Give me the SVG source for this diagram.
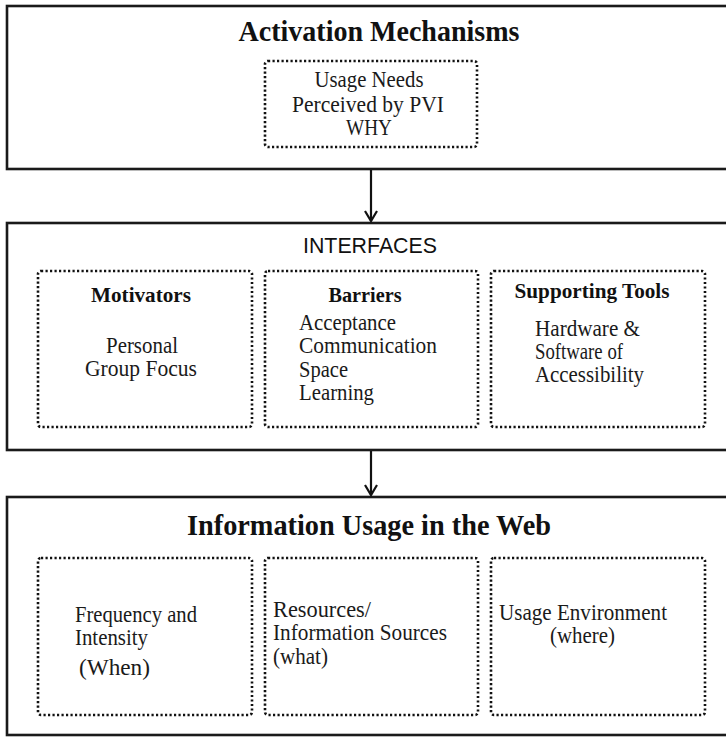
<svg xmlns="http://www.w3.org/2000/svg" width="726" height="737" viewBox="0 0 726 737">
  <style>
    .frame { fill: #ffffff; stroke: #1a1a1a; stroke-width: 2.6; }
    .dot { fill: none; stroke: #111; stroke-width: 2.6; stroke-dasharray: 2.2 2.3; }
    .title { font-family: "Liberation Serif", "Times New Roman", serif; font-weight: bold; font-size: 29px; fill: #111; text-anchor: middle; }
    .sans { font-family: "Liberation Sans", Arial, sans-serif; font-size: 22px; fill: #111; text-anchor: middle; }
    .head { font-family: "Liberation Serif", "Times New Roman", serif; font-weight: bold; font-size: 22px; fill: #111; text-anchor: middle; }
    .body { font-family: "Liberation Serif", "Times New Roman", serif; font-size: 23px; fill: #1a1a1a; }
    .mid { text-anchor: middle; }
    .conn { stroke: #111; stroke-width: 2.2; fill: none; }
    .tip { stroke: #111; stroke-width: 2.2; fill: none; stroke-linejoin: miter; }
  </style>
  <rect width="726" height="737" fill="#ffffff"/>

  <!-- Activation Mechanisms -->
  <g id="activation">
    <rect class="frame" x="7" y="6" width="740" height="163"/>
    <text class="title" x="379" y="41" textLength="281" lengthAdjust="spacingAndGlyphs">Activation Mechanisms</text>
    <g id="usage-needs">
      <rect class="dot" x="265" y="61" width="212" height="86" rx="3"/>
      <text class="body mid" x="369" y="87" textLength="109" lengthAdjust="spacingAndGlyphs">Usage Needs</text>
      <text class="body mid" x="368" y="112" textLength="152" lengthAdjust="spacingAndGlyphs">Perceived by PVI</text>
      <text class="body mid" x="369" y="135" textLength="46" lengthAdjust="spacingAndGlyphs">WHY</text>
    </g>
  </g>

  <!-- Interfaces -->
  <g id="interfaces">
    <rect class="frame" x="7" y="223" width="740" height="227"/>
    <text class="sans" x="370" y="253" textLength="134" lengthAdjust="spacingAndGlyphs">INTERFACES</text>
    <g id="motivators">
      <rect class="dot" x="38" y="271" width="214" height="156" rx="3"/>
      <text class="head" x="141" y="302" textLength="100" lengthAdjust="spacingAndGlyphs">Motivators</text>
      <text class="body mid" x="142" y="353" textLength="72" lengthAdjust="spacingAndGlyphs">Personal</text>
      <text class="body mid" x="141" y="376" textLength="112" lengthAdjust="spacingAndGlyphs">Group Focus</text>
    </g>
    <g id="barriers">
      <rect class="dot" x="265" y="271" width="213" height="156" rx="3"/>
      <text class="head" x="365" y="302" textLength="73" lengthAdjust="spacingAndGlyphs">Barriers</text>
      <text class="body" x="299" y="330" textLength="97" lengthAdjust="spacingAndGlyphs">Acceptance</text>
      <text class="body" x="299" y="353" textLength="138" lengthAdjust="spacingAndGlyphs">Communication</text>
      <text class="body" x="299" y="377" textLength="49" lengthAdjust="spacingAndGlyphs">Space</text>
      <text class="body" x="299" y="400" textLength="75" lengthAdjust="spacingAndGlyphs">Learning</text>
    </g>
    <g id="supporting-tools">
      <rect class="dot" x="491" y="271" width="214" height="156" rx="3"/>
      <text class="head" x="592" y="298" textLength="155" lengthAdjust="spacingAndGlyphs">Supporting Tools</text>
      <text class="body" x="535" y="336" textLength="105" lengthAdjust="spacingAndGlyphs">Hardware &amp;</text>
      <text class="body" x="535" y="359" textLength="88" lengthAdjust="spacingAndGlyphs">Software of</text>
      <text class="body" x="535" y="382" textLength="109" lengthAdjust="spacingAndGlyphs">Accessibility</text>
    </g>
  </g>

  <!-- Information Usage in the Web -->
  <g id="information-usage">
    <rect class="frame" x="7" y="497" width="740" height="238"/>
    <text class="title" x="369" y="535" textLength="364" lengthAdjust="spacingAndGlyphs">Information Usage in the Web</text>
    <g id="frequency">
      <rect class="dot" x="38" y="558" width="214" height="157" rx="3"/>
      <text class="body" x="75" y="622" textLength="122" lengthAdjust="spacingAndGlyphs">Frequency and</text>
      <text class="body" x="75" y="645" textLength="73" lengthAdjust="spacingAndGlyphs">Intensity</text>
      <text class="body" x="79" y="675" textLength="71" lengthAdjust="spacingAndGlyphs">(When)</text>
    </g>
    <g id="resources">
      <rect class="dot" x="265" y="558" width="213" height="157" rx="3"/>
      <text class="body" x="273" y="617" textLength="98" lengthAdjust="spacingAndGlyphs">Resources/</text>
      <text class="body" x="273" y="640" textLength="174" lengthAdjust="spacingAndGlyphs">Information Sources</text>
      <text class="body" x="273" y="664" textLength="55" lengthAdjust="spacingAndGlyphs">(what)</text>
    </g>
    <g id="environment">
      <rect class="dot" x="491" y="558" width="214" height="157" rx="3"/>
      <text class="body" x="499" y="620" textLength="168" lengthAdjust="spacingAndGlyphs">Usage Environment</text>
      <text class="body" x="550" y="643" textLength="65" lengthAdjust="spacingAndGlyphs">(where)</text>
    </g>
  </g>

  <!-- Connectors -->
  <g id="connectors">
    <line class="conn" x1="371" y1="170" x2="371" y2="221"/>
    <path class="tip" d="M365,211 L371,221 L377,211"/>
    <line class="conn" x1="371" y1="451" x2="371" y2="495"/>
    <path class="tip" d="M365,485 L371,495 L377,485"/>
  </g>
</svg>
